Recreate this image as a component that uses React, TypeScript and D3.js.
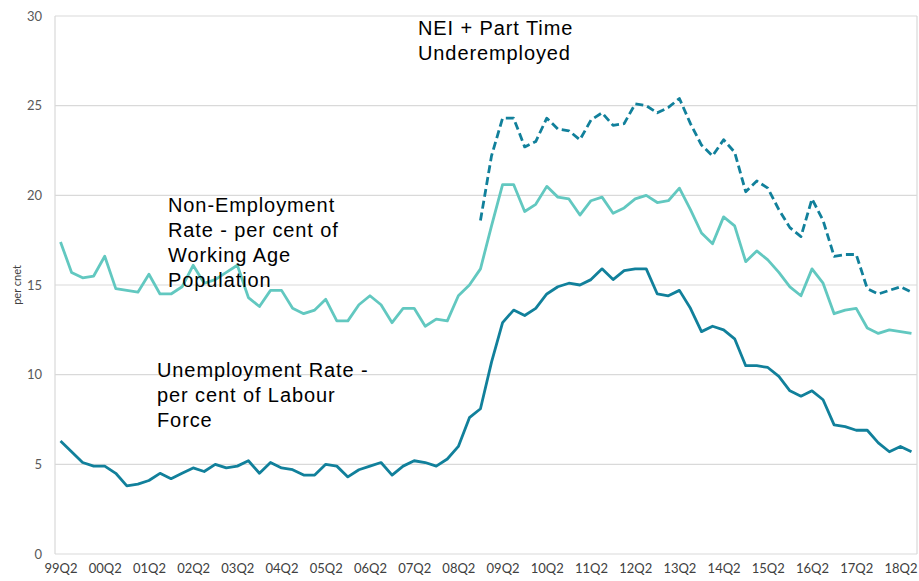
import React, { useEffect, useRef } from "react";
import * as d3 from "d3";

const quarters = [
  "99Q2", "99Q3", "99Q4",
  "00Q1", "00Q2", "00Q3", "00Q4", "01Q1", "01Q2", "01Q3", "01Q4",
  "02Q1", "02Q2", "02Q3", "02Q4", "03Q1", "03Q2", "03Q3", "03Q4",
  "04Q1", "04Q2", "04Q3", "04Q4", "05Q1", "05Q2", "05Q3", "05Q4",
  "06Q1", "06Q2", "06Q3", "06Q4", "07Q1", "07Q2", "07Q3", "07Q4",
  "08Q1", "08Q2", "08Q3", "08Q4", "09Q1", "09Q2", "09Q3", "09Q4",
  "10Q1", "10Q2", "10Q3", "10Q4", "11Q1", "11Q2", "11Q3", "11Q4",
  "12Q1", "12Q2", "12Q3", "12Q4", "13Q1", "13Q2", "13Q3", "13Q4",
  "14Q1", "14Q2", "14Q3", "14Q4", "15Q1", "15Q2", "15Q3", "15Q4",
  "16Q1", "16Q2", "16Q3", "16Q4", "17Q1", "17Q2", "17Q3", "17Q4",
  "18Q1", "18Q2", "18Q3",
];

// tick labels shown on the x axis (every 4th quarter)
const xTicks = [
  "99Q2", "00Q2", "01Q2", "02Q2", "03Q2", "04Q2", "05Q2", "06Q2", "07Q2", "08Q2",
  "09Q2", "10Q2", "11Q2", "12Q2", "13Q2", "14Q2", "15Q2", "16Q2", "17Q2", "18Q2",
];
const yTicks = [0, 5, 10, 15, 20, 25, 30];

const unemployment = [
  6.3, 5.7, 5.1, 4.9, 4.9, 4.5, 3.8, 3.9, 4.1, 4.5, 4.2, 4.5, 4.8, 4.6, 5.0, 4.8,
  4.9, 5.2, 4.5, 5.1, 4.8, 4.7, 4.4, 4.4, 5.0, 4.9, 4.3, 4.7, 4.9, 5.1, 4.4, 4.9,
  5.2, 5.1, 4.9, 5.3, 6.0, 7.6, 8.1, 10.7, 12.9, 13.6, 13.3, 13.7, 14.5, 14.9, 15.1, 15.0,
  15.3, 15.9, 15.3, 15.8, 15.9, 15.9, 14.5, 14.4, 14.7, 13.7, 12.4, 12.7, 12.5, 12.0,
  10.5, 10.5, 10.4, 9.9, 9.1, 8.8, 9.1, 8.6, 7.2, 7.1, 6.9, 6.9, 6.2, 5.7, 6.0, 5.7,
];

const nonEmployment = [
  17.4, 15.7, 15.4, 15.5, 16.6, 14.8, 14.7, 14.6, 15.6, 14.5, 14.5, 14.9, 16.1, 15.1, 15.3, 15.7,
  16.1, 14.3, 13.8, 14.7, 14.7, 13.7, 13.4, 13.6, 14.2, 13.0, 13.0, 13.9, 14.4, 13.9, 12.9, 13.7,
  13.7, 12.7, 13.1, 13.0, 14.4, 15.0, 15.9, 18.3, 20.6, 20.6, 19.1, 19.5, 20.5, 19.9, 19.8, 18.9,
  19.7, 19.9, 19.0, 19.3, 19.8, 20.0, 19.6, 19.7, 20.4, 19.2, 17.9, 17.3, 18.8, 18.3,
  16.3, 16.9, 16.4, 15.7, 14.9, 14.4, 15.9, 15.1, 13.4, 13.6, 13.7, 12.6, 12.3, 12.5, 12.4, 12.3,
];

// NEI + part time underemployed, starts in 08Q4
const underStart = "08Q4";
const underemployed = [
  18.6, 22.2, 24.3, 24.3, 22.7, 23.0, 24.3, 23.7, 23.6, 23.1, 24.2, 24.6, 23.9, 24.0,
  25.1, 25.0, 24.6, 24.9, 25.4, 24.0, 22.8, 22.2, 23.1, 22.4, 20.2, 20.8, 20.4, 19.2,
  18.2, 17.7, 19.8, 18.6, 16.6, 16.7, 16.7, 14.8, 14.5, 14.7, 14.9, 14.6,
];

const DARK = "#11809b";
const LIGHT = "#62c8c0";
const GRID = "#d9d9d9";

export default function App() {
  const ref = useRef<SVGSVGElement>(null);

  useEffect(() => {
    document.body.style.margin = "0";
    const W = 919, H = 581;
    const margin = { top: 16, right: 2, bottom: 27, left: 55 };
    const w = W - margin.left - margin.right;
    const h = H - margin.top - margin.bottom;

    const svg = d3.select(ref.current);
    svg.selectAll("*").remove();
    const g = svg.append("g").attr("transform", `translate(${margin.left},${margin.top})`);

    const x = d3.scalePoint<string>().domain(quarters).range([0, w]).padding(0.5);
    const y = d3.scaleLinear().domain([0, 30]).range([h, 0]);

    // grid
    g.selectAll(".grid").data(yTicks).join("line").attr("class", "grid")
      .attr("x1", 0).attr("x2", w)
      .attr("y1", d => y(d)).attr("y2", d => y(d))
      .attr("stroke", GRID).attr("stroke-width", 1.2);
    g.append("line").attr("x1", 0).attr("x2", 0).attr("y1", 0).attr("y2", h)
      .attr("stroke", GRID).attr("stroke-width", 1.2);
    g.append("line").attr("x1", w).attr("x2", w).attr("y1", 0).attr("y2", h)
      .attr("stroke", GRID).attr("stroke-width", 1.2);

    // y axis labels
    const yAxis = g.append("g").call(d3.axisLeft(y).tickValues(yTicks).tickSize(0).tickPadding(13));
    yAxis.select(".domain").remove();
    yAxis.selectAll("text").attr("fill", "#595959").style("font-family", "Lato, sans-serif").style("font-size", "13px");

    // x axis labels
    const xAxis = g.append("g").attr("transform", `translate(0,${h})`)
      .call(d3.axisBottom(x).tickValues(xTicks).tickSize(0).tickPadding(10));
    xAxis.select(".domain").remove();
    xAxis.selectAll("text").attr("fill", "#404040").style("font-family", "Lato, sans-serif").style("font-size", "13px");

    svg.append("text")
      .attr("transform", `translate(17,${margin.top + h / 2}) rotate(-90)`)
      .attr("text-anchor", "middle").attr("dy", "0.35em").attr("fill", "#404040")
      .style("font-family", "Lato, sans-serif").style("font-size", "11px")
      .text("per cnet");

    const line = d3.line<[string, number]>().x(d => x(d[0])!).y(d => y(d[1]));

    const s0 = quarters.indexOf(underStart);
    const series = [
      { data: nonEmployment.map((v, i) => [quarters[i], v] as [string, number]), color: LIGHT, dash: null },
      { data: unemployment.map((v, i) => [quarters[i], v] as [string, number]), color: DARK, dash: null },
      { data: underemployed.map((v, i) => [quarters[s0 + i], v] as [string, number]), color: DARK, dash: "8,4" },
    ];

    g.selectAll(".series").data(series).join("path").attr("class", "series")
      .attr("d", d => line(d.data))
      .attr("fill", "none")
      .attr("stroke", d => d.color)
      .attr("stroke-width", 2.8)
      .attr("stroke-linejoin", "round")
      .attr("stroke-dasharray", d => d.dash);

    // annotations
    const notes = [
      { x: 418, y: 35, lines: ["NEI + Part Time", "Underemployed"] },
      { x: 168, y: 212, lines: ["Non-Employment", "Rate - per cent of", "Working Age", "Population"] },
      { x: 157, y: 377, lines: ["Unemployment Rate -", "per cent of Labour", "Force"] },
    ];
    notes.forEach(n => {
      const t = svg.append("text").attr("x", n.x).attr("y", n.y)
        .attr("fill", "#000").style("font-family", "'Liberation Sans', Arial, sans-serif")
        .style("font-size", "20px").style("letter-spacing", "0.9px");
      n.lines.forEach((l, i) => {
        t.append("tspan").attr("x", n.x).attr("dy", i === 0 ? 0 : 25).text(l);
      });
    });
  }, []);

  return <svg ref={ref} width={919} height={581} style={{ display: "block" }} />;
}
